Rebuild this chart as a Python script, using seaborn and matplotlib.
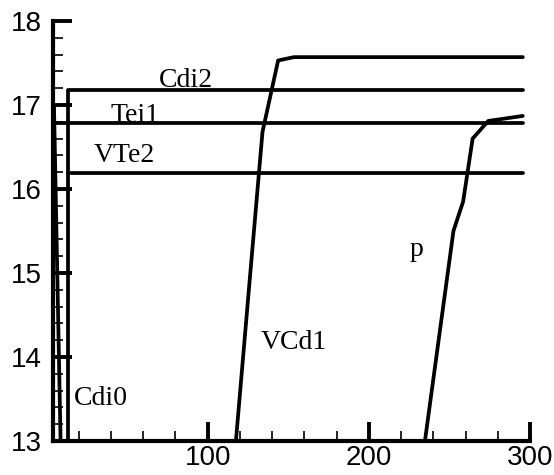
import matplotlib
matplotlib.use("Agg")
import matplotlib.pyplot as plt
from matplotlib.ticker import MultipleLocator
import seaborn as sns
import pandas as pd

# Curve data
cdi0_x = [8.7, 4.6]
cdi0_y = [13.0, 17.0]
tei1_x = [4.3, 295.5]
tei1_y = [16.78, 16.78]
cdi2_x = [13.5, 13.5, 295.5]
cdi2_y = [13.0, 17.18, 17.18]
vte2_x = [13.5, 295.5]
vte2_y = [16.19, 16.19]
vcd1_x = [117.5, 125.0, 134.0, 143.7, 153.6, 295.5]
vcd1_y = [13.0, 14.68, 16.68, 17.53, 17.57, 17.57]
p_x = [234.8, 252.5, 258.5, 264.4, 274.1, 295.5]
p_y = [13.0, 15.5, 15.85, 16.6, 16.81, 16.87]

# Curve labels: (text, left x, baseline y)
label_text = ["Cdi2", "Tei1", "VTe2", "Cdi0", "VCd1", "p"]
label_x = [69.6, 39.8, 29.2, 16.8, 132.9, 225.5]
label_y = [17.22, 16.80, 16.32, 13.43, 14.10, 15.20]

x_ticks = [100, 200, 300]
y_ticks = [13, 14, 15, 16, 17, 18]

sns.set_style("ticks")

fig = plt.figure(figsize=(5.54, 4.75), dpi=100)
ax = fig.add_axes([53 / 554, 1 - 441 / 475, (530 - 53) / 554, (441 - 21) / 475])

curves = [
    (cdi0_x, cdi0_y),
    (tei1_x, tei1_y),
    (cdi2_x, cdi2_y),
    (vte2_x, vte2_y),
    (vcd1_x, vcd1_y),
    (p_x, p_y),
]
for xs, ys in curves:
    df = pd.DataFrame({"x": xs, "y": ys})
    sns.lineplot(data=df, x="x", y="y", sort=False, estimator=None,
                 color="black", linewidth=2.7, ax=ax, zorder=3)

for t, lx, ly in zip(label_text, label_x, label_y):
    ax.text(lx, ly, t, family="Liberation Serif", fontsize=20,
            ha="left", va="baseline", color="black", zorder=2)

ax.set_xlim(4.0, 300)
ax.set_ylim(13, 18)
ax.set_xticks(x_ticks)
ax.set_yticks(y_ticks)
ax.xaxis.set_minor_locator(MultipleLocator(20))
ax.yaxis.set_minor_locator(MultipleLocator(0.2))
ax.set_xlabel("")
ax.set_ylabel("")

sns.despine(ax=ax)
for side in ("left", "bottom"):
    ax.spines[side].set_linewidth(3.0)
    ax.spines[side].set_color("black")
    ax.spines[side].set_capstyle("projecting")
    ax.spines[side].set_zorder(4)

ax.tick_params(which="major", direction="in", length=14, width=2.8,
               labelsize=20, color="black", labelcolor="black")
ax.tick_params(which="minor", direction="in", length=7, width=1.2,
               color="black")
ax.tick_params(axis="y", which="major", pad=8)
ax.tick_params(axis="x", which="major", pad=3)
for lab in ax.get_xticklabels() + ax.get_yticklabels():
    lab.set_family("Liberation Sans")

fig.savefig("out.png", dpi=100)
